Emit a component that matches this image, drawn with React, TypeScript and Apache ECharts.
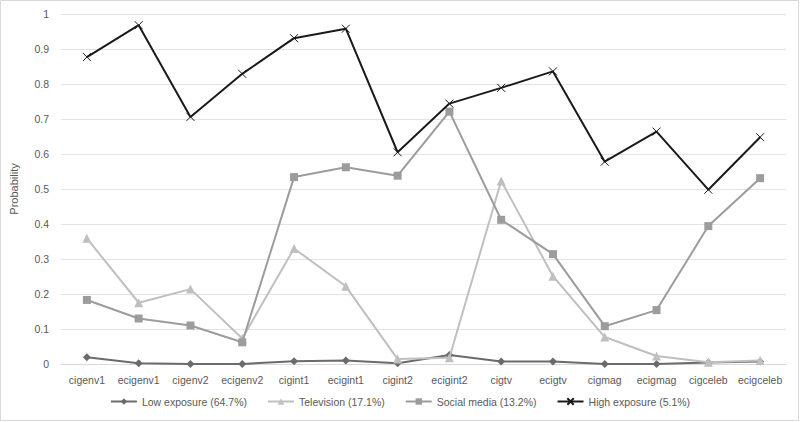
import React, { useEffect, useRef } from "react";
import * as echarts from "echarts";

const categories = ["cigenv1", "ecigenv1", "cigenv2", "ecigenv2", "cigint1", "ecigint1", "cigint2", "ecigint2", "cigtv", "ecigtv", "cigmag", "ecigmag", "cigceleb", "ecigceleb"];
const lowExposure = [0.019, 0.002, 0.0, 0.0, 0.008, 0.010, 0.002, 0.026, 0.007, 0.007, 0.0, 0.0, 0.004, 0.007];
const television = [0.359, 0.175, 0.214, 0.073, 0.330, 0.222, 0.014, 0.018, 0.523, 0.251, 0.077, 0.023, 0.005, 0.010];
const socialMedia = [0.183, 0.130, 0.110, 0.062, 0.534, 0.562, 0.538, 0.721, 0.412, 0.314, 0.108, 0.154, 0.394, 0.531];
const highExposure = [0.877, 0.968, 0.706, 0.829, 0.931, 0.958, 0.605, 0.744, 0.789, 0.836, 0.578, 0.664, 0.498, 0.648];
const seriesNames = ["Low exposure (64.7%)", "Television (17.1%)", "Social media (13.2%)", "High exposure (5.1%)"];

const FONT = "Liberation Sans";

export default function App() {
  const ref = useRef<HTMLDivElement>(null);
  useEffect(() => {
    document.body.style.margin = "0";
    const chart = echarts.init(ref.current!, null, { renderer: "svg" });
    const xPath = "path://M0,0L10,10M10,0L0,10";
    chart.setOption({
      animation: false,
      backgroundColor: "#ffffff",
      textStyle: { fontFamily: FONT },
      graphic: [
        {
          type: "rect",
          shape: { x: 0.5, y: 0.5, width: 798, height: 420 },
          style: { fill: "none", stroke: "#d9d9d9", lineWidth: 1 },
          silent: true,
        },
      ],
      grid: { left: 59, right: 14, top: 14, bottom: 58 },
      legend: {
        bottom: 10,
        left: "center",
        itemWidth: 26,
        itemHeight: 8,
        itemGap: 20,
        textStyle: { color: "#595959", fontSize: 10.5, fontFamily: FONT },
        data: seriesNames,
      },
      xAxis: {
        type: "category",
        data: categories,
        boundaryGap: true,
        axisLine: { show: true, lineStyle: { color: "#d9d9d9", width: 1 } },
        axisTick: { show: false },
        axisLabel: { color: "#595959", fontSize: 10.5, margin: 10, interval: 0, fontFamily: FONT },
      },
      yAxis: {
        type: "value",
        min: 0,
        max: 1,
        interval: 0.1,
        name: "Probability",
        nameLocation: "middle",
        nameGap: 42,
        nameTextStyle: { color: "#595959", fontSize: 11, fontFamily: FONT },
        axisLine: { show: false },
        axisTick: { show: false },
        splitLine: { lineStyle: { color: "#e3e3e3", width: 1 } },
        axisLabel: {
          color: "#595959",
          fontSize: 10.5,
          margin: 12,
          fontFamily: FONT,
          formatter: (v: number) => String(Math.round(v * 10) / 10),
        },
      },
      series: [
        {
          name: seriesNames[0],
          type: "line",
          data: lowExposure,
          symbol: "diamond",
          symbolSize: 8,
          color: "#6b6b6b",
          lineStyle: { color: "#6b6b6b", width: 2 },
          itemStyle: { color: "#6b6b6b" },
          z: 2,
        },
        {
          name: seriesNames[1],
          type: "line",
          data: television,
          symbol: "triangle",
          symbolSize: 9,
          color: "#bfbfbf",
          lineStyle: { color: "#bfbfbf", width: 2 },
          itemStyle: { color: "#bfbfbf" },
          z: 3,
        },
        {
          name: seriesNames[2],
          type: "line",
          data: socialMedia,
          symbol: "rect",
          symbolSize: 8,
          color: "#9c9c9c",
          lineStyle: { color: "#9c9c9c", width: 2 },
          itemStyle: { color: "#9c9c9c" },
          z: 4,
        },
        {
          name: seriesNames[3],
          type: "line",
          data: highExposure,
          symbol: xPath,
          symbolSize: 8,
          color: "#1a1a1a",
          lineStyle: { color: "#1a1a1a", width: 2 },
          itemStyle: { color: "#1a1a1a", borderColor: "#1a1a1a", borderWidth: 1 },
          z: 5,
        },
      ],
    });
    return () => chart.dispose();
  }, []);
  return (
    <div
      ref={ref}
      style={{ position: "absolute", left: 0, top: 0, width: 800, height: 422 }}
    />
  );
}
